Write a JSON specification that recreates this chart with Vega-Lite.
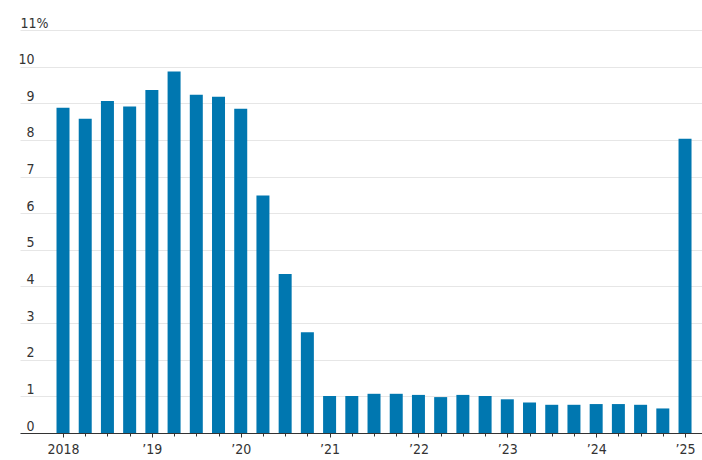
{
  "$schema": "https://vega.github.io/schema/vega-lite/v6.json",
  "autosize": "none",
  "width": 682,
  "height": 403,
  "padding": {"left": 20, "top": 30, "right": 0, "bottom": 27},
  "background": "white",
  "config": {
    "view": {"stroke": null},
    "font": "DejaVu Sans Condensed, Liberation Sans, sans-serif",
    "axis": {"labelFont": "DejaVu Sans Condensed, Liberation Sans, sans-serif", "labelFontSize": 14, "labelColor": "#333333"}
  },
  "data": {
    "values": [
      {"q": 2018.00, "v": 8.88}, {"q": 2018.25, "v": 8.58}, {"q": 2018.50, "v": 9.06}, {"q": 2018.75, "v": 8.91},
      {"q": 2019.00, "v": 9.36}, {"q": 2019.25, "v": 9.87}, {"q": 2019.50, "v": 9.23}, {"q": 2019.75, "v": 9.18},
      {"q": 2020.00, "v": 8.85}, {"q": 2020.25, "v": 6.48}, {"q": 2020.50, "v": 4.34}, {"q": 2020.75, "v": 2.75},
      {"q": 2021.00, "v": 1.01}, {"q": 2021.25, "v": 1.01}, {"q": 2021.50, "v": 1.07}, {"q": 2021.75, "v": 1.07},
      {"q": 2022.00, "v": 1.04}, {"q": 2022.25, "v": 0.98}, {"q": 2022.50, "v": 1.04}, {"q": 2022.75, "v": 1.01},
      {"q": 2023.00, "v": 0.92}, {"q": 2023.25, "v": 0.83}, {"q": 2023.50, "v": 0.77}, {"q": 2023.75, "v": 0.77},
      {"q": 2024.00, "v": 0.79}, {"q": 2024.25, "v": 0.79}, {"q": 2024.50, "v": 0.77}, {"q": 2024.75, "v": 0.67},
      {"q": 2025.00, "v": 8.03}
    ]
  },
  "mark": {"type": "bar", "size": 13, "color": "#0077b0"},
  "encoding": {
    "x": {
      "field": "q",
      "type": "quantitative",
      "scale": {"domain": [2017.516, 2025.191], "nice": false, "zero": false, "padding": 0},
      "axis": {
        "title": null,
        "grid": false,
        "values": [2018, 2018.25, 2018.5, 2018.75, 2019, 2019.25, 2019.5, 2019.75, 2020, 2020.25, 2020.5, 2020.75, 2021, 2021.25, 2021.5, 2021.75, 2022, 2022.25, 2022.5, 2022.75, 2023, 2023.25, 2023.5, 2023.75, 2024, 2024.25, 2024.5, 2024.75, 2025],
        "labelExpr": "datum.value == 2018 ? '2018' : (datum.value % 1 == 0 ? '\u2019' + substring(toString(datum.value), 2) : '')",
        "labelOverlap": false,
        "labelFlush": false,
        "labelBound": false,
        "domainColor": "#333333",
        "domainWidth": 1,
        "tickColor": "#333333",
        "tickSize": {"condition": {"test": "datum.value % 1 == 0", "value": 4}, "value": 3},
        "labelPadding": 5
      }
    },
    "y": {
      "field": "v",
      "type": "quantitative",
      "scale": {"domain": [0, 11], "nice": false},
      "axis": {
        "title": null,
        "values": [0, 1, 2, 3, 4, 5, 6, 7, 8, 9, 10, 11],
        "domain": false,
        "ticks": false,
        "tickSize": 0,
        "gridColor": "#e6e6e6",
        "gridWidth": 1,
        "labelExpr": "datum.value == 11 ? '11%' : datum.label",
        "labelAlign": {"condition": {"test": "datum.value == 11", "value": "left"}, "value": "right"},
        "labelPadding": {"condition": {"test": "datum.value == 11", "value": 0}, "value": -14},
        "labelBaseline": "alphabetic",
        "labelOffset": -3
      }
    }
  }
}
